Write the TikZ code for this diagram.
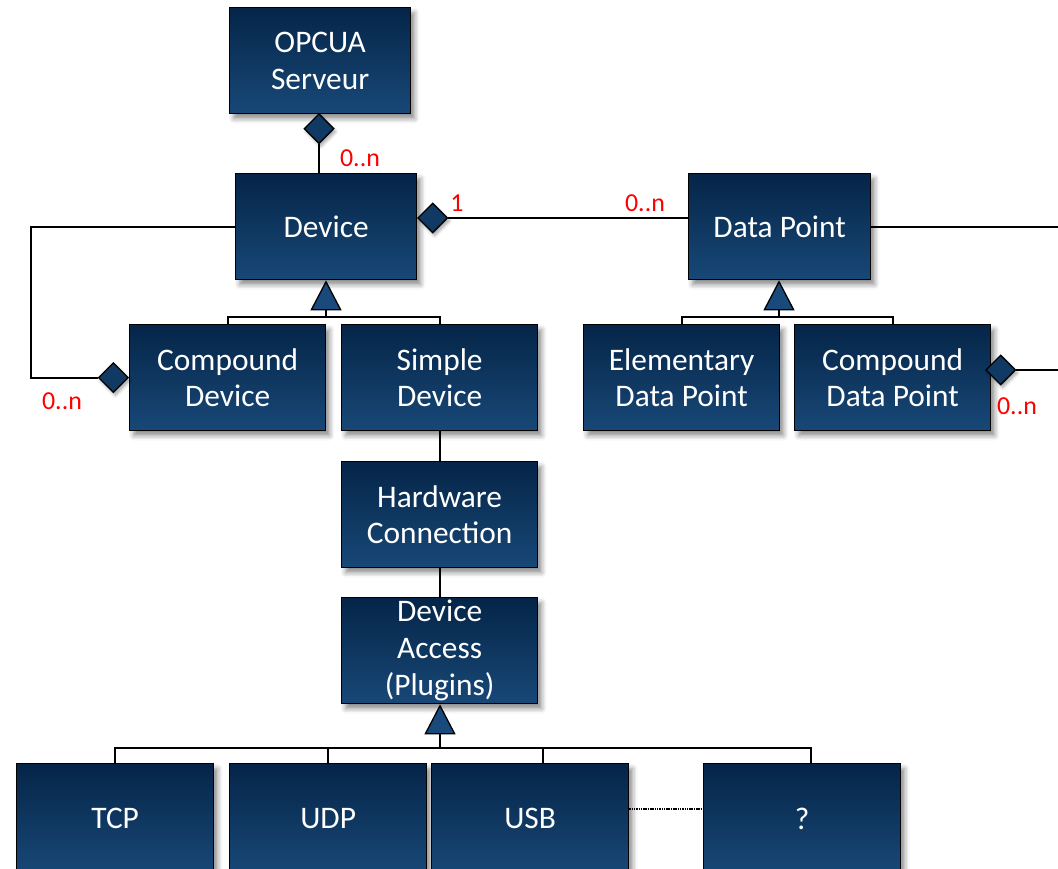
\documentclass[tikz,border=0pt]{standalone}
\usepackage{fontspec}
\setmainfont{Carlito}
\usetikzlibrary{shapes.geometric,arrows.meta,shadows.blur}

\definecolor{boxtop}{RGB}{5,37,72}
\definecolor{boxbot}{RGB}{24,72,119}
\definecolor{markfill}{RGB}{16,58,100}
\definecolor{trifill}{RGB}{24,74,124}

\tikzset{
  classbox/.style={
    rectangle, draw=black, line width=1.3bp,
    top color=boxtop, bottom color=boxbot,
    text=white, align=center, inner sep=0pt,
    font=\fontsize{31.5}{37}\selectfont,
    anchor=north west,
    blur shadow={shadow xshift=4bp, shadow yshift=-5bp,
                 shadow blur radius=5bp, shadow opacity=45}},
  narrow/.style={minimum width=181bp, minimum height=106bp},
  wide/.style={minimum width=196bp, minimum height=106bp},
  aggmark/.style={diamond, draw=black, line width=1.3bp, fill=markfill,
    minimum width=30bp, minimum height=30bp, inner sep=0pt,
    blur shadow={shadow xshift=2bp, shadow yshift=-3bp,
                 shadow blur radius=3bp, shadow opacity=35}},
  link/.style={draw=black, line width=2bp},
  inherit/.style={link, -{Triangle[length=30bp, width=31bp, fill=trifill, line width=1.3bp]}},
  mult/.style={text=red, font=\fontsize{26}{28}\selectfont, inner sep=0pt},
}

\begin{document}
\begin{tikzpicture}[x=1bp, y=-1bp]
  \useasboundingbox (0,0) rectangle (1058,869);
  \clip (0,0) rectangle (1058,869);

  % classes
  \node[classbox, narrow, minimum width=181bp] (opcua) at (229,7) {OPCUA\\Serveur};
  \node[classbox, narrow] (device) at (235,173) {Device};
  \node[classbox, narrow, minimum width=182bp] (dp) at (688,173) {Data Point};
  \node[classbox, wide] (cdev) at (129,324) {Compound\\Device};
  \node[classbox, wide] (sdev) at (341,324) {Simple\\Device};
  \node[classbox, wide] (edp) at (583,324) {Elementary\\Data Point};
  \node[classbox, wide] (cdp) at (794,324) {Compound\\Data Point};
  \node[classbox, wide] (hw) at (341,461) {Hardware\\Connection};
  \node[classbox, wide] (da) at (341,597) {Device\\Access\\(Plugins)};
  \node[classbox, wide, minimum width=197bp, minimum height=110bp] (tcp) at (16,763) {TCP};
  \node[classbox, wide, minimum width=197bp, minimum height=110bp] (udp) at (229,763) {UDP};
  \node[classbox, wide, minimum width=197bp, minimum height=110bp] (usb) at (431,763) {USB};
  \node[classbox, wide, minimum width=197bp, minimum height=110bp] (unk) at (703,763) {?};

  % aggregation diamonds
  \node[aggmark, anchor=north] (dop) at (319,113) {};
  \node[aggmark, anchor=west] (ddev) at (417,218) {};
  \node[aggmark, anchor=east] (dcdev) at (cdev.west) {};
  \node[aggmark, anchor=west] (dcdp) at (985,370) {};

  % associations
  \draw[link] (dop.south) -- (dop.south |- device.north);
  \draw[link] (ddev.east) -- (ddev.east -| dp.west);
  \draw[link] (device.west) -- ++(-204,0) |- (dcdev.west);
  \draw[link] (dp.east) -- ++(200,0);
  \draw[link] (dcdp.east) -- ++(100,0);
  \draw[link] (sdev.south) -- (hw.north);
  \draw[link] (hw.south) -- (da.north);

  % generalisations
  \coordinate (jdev) at (326,317);
  \draw[link] (cdev.north) |- (jdev) -| (sdev.north);
  \draw[inherit] (jdev) -- (jdev |- device.south);

  \coordinate (jdp) at (779,317);
  \draw[link] (edp.north) |- (jdp) -| (cdp.north);
  \draw[inherit] (jdp) -- (jdp |- dp.south);

  \coordinate (jda) at (440,748);
  \draw[link] (tcp.north) |- (jda) -| ([xshift=8.5bp]unk.north);
  \draw[link] (udp.north) -- (udp.north |- jda);
  \draw[link] ([xshift=12.5bp]usb.north) -- ([xshift=12.5bp]usb.north |- jda);
  \draw[inherit] (jda) -- (jda |- da.south);

  \draw[black, line width=2.2bp, dash pattern=on 1.5bp off 0.8bp]
    ([yshift=10bp]usb.east) -- ([yshift=10bp]unk.west);

  % multiplicities
  \node[mult] (m1) at (360,158) {0..n};
  \node[mult] (m2) at (457,203) {1};
  \node[mult] (m3) at (645,203) {0..n};
  \node[mult] (m4) at (62,401) {0..n};
  \node[mult] (m5) at (1017,406) {0..n};
\end{tikzpicture}
\end{document}
